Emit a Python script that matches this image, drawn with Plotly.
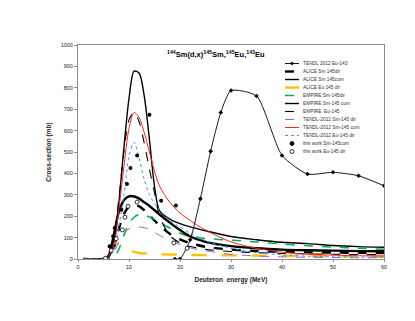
import plotly.graph_objects as go

# Energy grid for the model curves (MeV)
E_TH = [1, 5, 6, 7, 8, 9, 10, 11, 12, 13, 14, 15, 16, 18, 20, 22, 25, 30, 35, 40, 45, 50, 55, 60]

alice_sm_cum = [0, 0, 8, 70, 260, 520, 750, 878, 868, 760, 560, 340, 225, 186, 165, 150, 132, 105, 90, 78, 72, 63, 58, 55]
alice_sm_dir = [0, 0, 5, 50, 140, 210, 245, 252, 246, 228, 205, 180, 155, 118, 92, 74, 57, 44, 37, 34, 31, 30, 29, 28]
alice_eu_dir = [0, 0, 30, 75, 70, 55, 42, 33, 28, 26, 24, 23, 22, 21, 20, 19, 18, 17, 16, 15, 14, 13, 12, 12]
empire_sm_dir = [0, 0, 0, 8, 45, 110, 165, 195, 208, 205, 196, 185, 172, 145, 120, 106, 96, 88, 80, 70, 62, 56, 50, 46]
empire_sm_cum = [0, 0, 15, 110, 220, 275, 293, 292, 282, 265, 248, 228, 208, 170, 135, 105, 80, 60, 50, 44, 41, 39, 37, 36]
empire_eu = [0, 0, 10, 90, 280, 500, 650, 685, 640, 540, 420, 310, 200, 110, 75, 58, 45, 35, 30, 26, 24, 22, 21, 20]
tendl_sm_dir = [0, 0, 3, 30, 80, 120, 140, 148, 150, 146, 138, 125, 110, 88, 68, 52, 38, 22, 14, 10, 8, 7, 6, 6]
tendl_sm_cum = [0, 0, 15, 60, 230, 430, 610, 685, 660, 590, 500, 410, 340, 265, 215, 180, 135, 80, 50, 32, 22, 18, 15, 14]
tendl_eu_dir = [0, 0, 5, 40, 150, 300, 480, 545, 470, 370, 300, 260, 230, 180, 150, 120, 85, 50, 30, 20, 13, 10, 8, 7]

# TENDL-2012 Eu-143
E_EU143 = [19, 20, 22, 24, 26, 28, 30, 35, 40, 45, 50, 55, 60]
tendl_eu143 = [0, 0, 90, 282, 503, 685, 787, 762, 484, 397, 405, 389, 342]

# This work
E_SM_EXP = [6.2, 6.9, 7.2, 8.5, 9.6, 10.3, 11.6, 14.0, 16.3, 19.2]
sm_exp = [59, 106, 145, 230, 350, 425, 484, 674, 272, 250]
E_EU_EXP = [5.4, 6.5, 7.5, 8.7, 9.2, 9.8, 11.6, 18.8, 21.4]
eu_exp = [3, 40, 95, 136, 195, 246, 266, 75, 50]

ORANGE = "#FFC000"
GREEN = "#00B050"
PURPLE = "#9966CC"
RED = "#FF2020"
BLUE = "#3399FF"

curves = [
    ("ALICE Sm 145dir", alice_sm_dir, dict(color="black", width=2.4, dash="dash")),
    ("ALICE Sm 145cum", alice_sm_cum, dict(color="black", width=1.4)),
    ("ALICE Eu 145 dir", alice_eu_dir, dict(color=ORANGE, width=2.4, dash="longdash")),
    ("EMPIRE Sm-145dir", empire_sm_dir, dict(color=GREEN, width=1.5, dash="dash")),
    ("EMPIRE Sm-145 cum", empire_sm_cum, dict(color="black", width=2.4)),
    ("EMPIRE  Eu-145", empire_eu, dict(color="black", width=1.1, dash="dash")),
    ("TENDL-2012 Sm-145 dir", tendl_sm_dir, dict(color=PURPLE, width=1, dash="dash")),
    ("TENDL-2012 Sm-145 cum", tendl_sm_cum, dict(color=RED, width=1)),
    ("TENDL-2012 Eu-145 dir", tendl_eu_dir, dict(color=BLUE, width=1, dash="dot")),
]

fig = go.Figure()
for name, vals, line in curves:
    fig.add_trace(go.Scatter(x=E_TH, y=vals, mode="lines", name=name,
                             line=dict(shape="spline", smoothing=0.8, **line)))

fig.add_trace(go.Scatter(x=E_EU143, y=tendl_eu143, mode="lines+markers", name="TENDL 2012 Eu-143",
                         line=dict(color="black", width=0.9, shape="spline", smoothing=0.6),
                         marker=dict(color="black", size=3.5, symbol="diamond")))
fig.add_trace(go.Scatter(x=E_SM_EXP, y=sm_exp, mode="markers", name="this work Sm-145cum",
                         marker=dict(color="black", size=4)))
fig.add_trace(go.Scatter(x=E_EU_EXP, y=eu_exp, mode="markers", name="this work Eu-145 dir",
                         marker=dict(color="white", size=4, line=dict(color="black", width=0.8))))

# Hand-made compact legend (paper coords of the 306x214 plot area)
X0, Y0, W, H = 70, 37, 306, 214
def px(x):
    return (x - X0) / W
def py(y):
    return (Y0 + H - y) / H

legend_rows = [
    ("TENDL 2012 Eu-143", dict(color="black", width=0.9), "diamond"),
    ("ALICE Sm 145dir", dict(color="black", width=2.4, dash="dash"), None),
    ("ALICE Sm 145cum", dict(color="black", width=1.4), None),
    ("ALICE Eu 145 dir", dict(color=ORANGE, width=2.4, dash="longdash"), None),
    ("EMPIRE Sm-145dir", dict(color=GREEN, width=1.5, dash="dash"), None),
    ("EMPIRE Sm-145 cum", dict(color="black", width=1.4), None),
    ("EMPIRE  Eu-145", dict(color="black", width=1.1, dash="dash"), None),
    ("TENDL-2012 Sm-145 dir", dict(color=PURPLE, width=1, dash="dash"), None),
    ("TENDL-2012 Sm-145 cum", dict(color=RED, width=1), None),
    ("TENDL-2012 Eu-145 dir", dict(color=BLUE, width=1, dash="dot"), None),
    ("this work Sm-145cum", None, "filled"),
    ("this work Eu-145 dir", None, "open"),
]
row_y = 55.5
for label, line, mark in legend_rows:
    if line is not None:
        fig.add_shape(type="line", xref="paper", yref="paper",
                      x0=px(277), x1=px(291), y0=py(row_y), y1=py(row_y), line=line)
    if mark == "diamond":
        fig.add_shape(type="circle", xref="paper", yref="paper",
                      x0=px(282.7), x1=px(285.3), y0=py(row_y - 1.3), y1=py(row_y + 1.3),
                      fillcolor="black", line=dict(color="black", width=0.5))
    elif mark in ("filled", "open"):
        fig.add_shape(type="circle", xref="paper", yref="paper",
                      x0=px(282), x1=px(286), y0=py(row_y - 2), y1=py(row_y + 2),
                      fillcolor="black" if mark == "filled" else "white",
                      line=dict(color="black", width=0.8))
    fig.add_annotation(text=label, xref="paper", yref="paper", x=px(293), y=py(row_y),
                       xanchor="left", yanchor="middle", showarrow=False,
                       font=dict(size=4.8, color="#333333"))
    row_y += 8

fig.update_layout(
    width=415, height=321,
    margin=dict(l=70, r=39, t=37, b=70),
    paper_bgcolor="white", plot_bgcolor="white",
    font=dict(family="Liberation Sans, Arial, sans-serif", color="#222222", size=5.5),
    showlegend=False,
    annotations=list(fig.layout.annotations) + [
        dict(text="<b><sup>144</sup>Sm(d,x)<sup>145</sup>Sm,<sup>145</sup>Eu,<sup>143</sup>Eu</b>",
             xref="paper", yref="paper", x=px(208), y=py(46), xanchor="center", yanchor="middle",
             showarrow=False, font=dict(size=7.5, color="black")),
    ],
)
fig.update_xaxes(range=[0, 60], dtick=10, showline=True, linecolor="#8c8c8c", linewidth=1,
                 mirror=True, ticks="outside", ticklen=2, tickcolor="#8c8c8c", showgrid=False,
                 zeroline=False, title=dict(text="<b>Deuteron  energy (MeV)</b>", font=dict(size=6.5), standoff=8))
fig.update_yaxes(range=[0, 1000], dtick=100, showline=True, linecolor="#8c8c8c", linewidth=1,
                 mirror=True, ticks="outside", ticklen=3, tickcolor="#8c8c8c", showgrid=False,
                 zeroline=False, title=dict(text="<b>Cross-section (mb)</b>", font=dict(size=6.5), standoff=8))

fig.write_html("out.html")
